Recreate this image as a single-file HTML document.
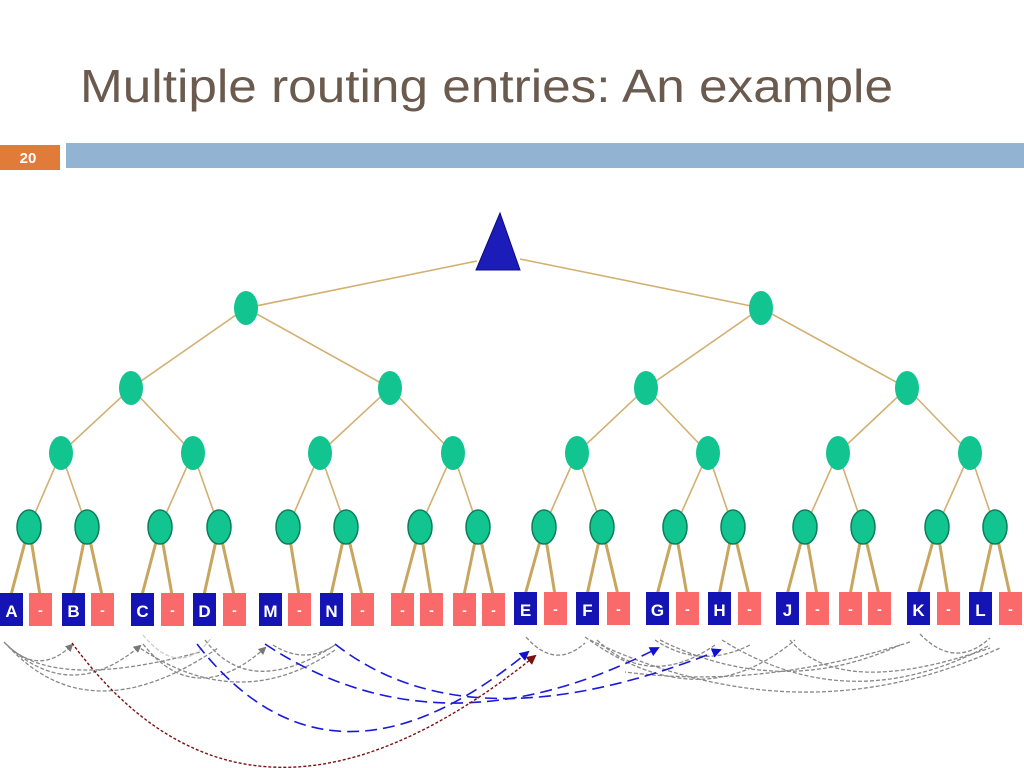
<!DOCTYPE html>
<html><head><meta charset="utf-8"><style>
html,body{margin:0;padding:0;background:#fff;width:1024px;height:768px;overflow:hidden}
svg{display:block}
</style></head><body>
<svg width="1024" height="768" viewBox="0 0 1024 768" xmlns="http://www.w3.org/2000/svg" font-family="Liberation Sans, sans-serif">
<defs>
<marker id="ag" markerWidth="8" markerHeight="8" refX="6" refY="4" orient="auto" markerUnits="userSpaceOnUse"><path d="M0,0 L8,4 L0,8 z" fill="#777"/></marker>
<marker id="ab" markerWidth="10" markerHeight="10" refX="8" refY="5" orient="auto" markerUnits="userSpaceOnUse"><path d="M0,0 L10,5 L0,10 z" fill="#1010d0"/></marker>
<marker id="ar" markerWidth="10" markerHeight="10" refX="8" refY="5" orient="auto" markerUnits="userSpaceOnUse"><path d="M0,0 L10,5 L0,10 z" fill="#7a1010"/></marker>
</defs>
<text x="80" y="102" font-size="46" fill="#6b5a4e" textLength="813" lengthAdjust="spacingAndGlyphs">Multiple routing entries: An example</text>
<rect x="0" y="145" width="60" height="25" fill="#e07b39"/>
<text x="28" y="163" font-size="15" font-weight="bold" fill="#fff" text-anchor="middle">20</text>
<rect x="66" y="143" width="958" height="25" fill="#93b3d3"/>

<g stroke="#d2b071" stroke-width="1.6" fill="none">
<line x1="477" y1="261" x2="246" y2="308"/><line x1="520" y1="259" x2="761" y2="308"/>
<line x1="246" y1="308" x2="131" y2="388"/><line x1="246" y1="308" x2="390" y2="388"/>
<line x1="761" y1="308" x2="646" y2="388"/><line x1="761" y1="308" x2="907" y2="388"/>
<line x1="131" y1="388" x2="61" y2="453"/><line x1="131" y1="388" x2="193" y2="453"/>
<line x1="390" y1="388" x2="320" y2="453"/><line x1="390" y1="388" x2="453" y2="453"/>
<line x1="646" y1="388" x2="577" y2="453"/><line x1="646" y1="388" x2="708" y2="453"/>
<line x1="907" y1="388" x2="838" y2="453"/><line x1="907" y1="388" x2="970" y2="453"/>
<line x1="61" y1="453" x2="29" y2="527"/><line x1="61" y1="453" x2="87" y2="527"/>
<line x1="193" y1="453" x2="160" y2="527"/><line x1="193" y1="453" x2="219" y2="527"/>
<line x1="320" y1="453" x2="288" y2="527"/><line x1="320" y1="453" x2="346" y2="527"/>
<line x1="453" y1="453" x2="420" y2="527"/><line x1="453" y1="453" x2="478" y2="527"/>
<line x1="577" y1="453" x2="544" y2="527"/><line x1="577" y1="453" x2="602" y2="527"/>
<line x1="708" y1="453" x2="675" y2="527"/><line x1="708" y1="453" x2="733" y2="527"/>
<line x1="838" y1="453" x2="805" y2="527"/><line x1="838" y1="453" x2="863" y2="527"/>
<line x1="970" y1="453" x2="937" y2="527"/><line x1="970" y1="453" x2="995" y2="527"/>
</g>
<g stroke="#c9a660" stroke-width="3" fill="none">
<line x1="29" y1="527" x2="11" y2="595"/><line x1="29" y1="527" x2="40" y2="595"/>
<line x1="87" y1="527" x2="73" y2="595"/><line x1="87" y1="527" x2="102" y2="595"/>
<line x1="160" y1="527" x2="142" y2="595"/><line x1="160" y1="527" x2="172" y2="595"/>
<line x1="219" y1="527" x2="204" y2="595"/><line x1="219" y1="527" x2="234" y2="595"/>
<line x1="288" y1="527" x2="299" y2="595"/>
<line x1="346" y1="527" x2="331" y2="595"/><line x1="346" y1="527" x2="362" y2="595"/>
<line x1="420" y1="527" x2="402" y2="595"/><line x1="420" y1="527" x2="431" y2="595"/>
<line x1="478" y1="527" x2="464" y2="595"/><line x1="478" y1="527" x2="493" y2="595"/>
<line x1="544" y1="527" x2="525" y2="595"/><line x1="544" y1="527" x2="555" y2="595"/>
<line x1="602" y1="527" x2="587" y2="595"/><line x1="602" y1="527" x2="618" y2="595"/>
<line x1="675" y1="527" x2="657" y2="595"/><line x1="675" y1="527" x2="687" y2="595"/>
<line x1="733" y1="527" x2="719" y2="595"/><line x1="733" y1="527" x2="749" y2="595"/>
<line x1="805" y1="527" x2="787" y2="595"/><line x1="805" y1="527" x2="817" y2="595"/>
<line x1="863" y1="527" x2="850" y2="595"/><line x1="863" y1="527" x2="879" y2="595"/>
<line x1="937" y1="527" x2="918" y2="595"/><line x1="937" y1="527" x2="948" y2="595"/>
<line x1="995" y1="527" x2="980" y2="595"/><line x1="995" y1="527" x2="1010" y2="595"/>
</g>

<polygon points="500,213 476,270 520,270" fill="#1c1cb8" stroke="#0c0c80" stroke-width="1"/>
<g fill="#12c48f">
<ellipse cx="246" cy="308" rx="12" ry="17"/><ellipse cx="761" cy="308" rx="12" ry="17"/>
<ellipse cx="131" cy="388" rx="12" ry="17"/><ellipse cx="390" cy="388" rx="12" ry="17"/>
<ellipse cx="646" cy="388" rx="12" ry="17"/><ellipse cx="907" cy="388" rx="12" ry="17"/>
<ellipse cx="61" cy="453" rx="12" ry="17"/><ellipse cx="193" cy="453" rx="12" ry="17"/>
<ellipse cx="320" cy="453" rx="12" ry="17"/><ellipse cx="453" cy="453" rx="12" ry="17"/>
<ellipse cx="577" cy="453" rx="12" ry="17"/><ellipse cx="708" cy="453" rx="12" ry="17"/>
<ellipse cx="838" cy="453" rx="12" ry="17"/><ellipse cx="970" cy="453" rx="12" ry="17"/>
</g>
<g fill="#12c48f" stroke="#0a7d5a" stroke-width="1.5">
<ellipse cx="29" cy="527" rx="12" ry="17"/><ellipse cx="87" cy="527" rx="12" ry="17"/>
<ellipse cx="160" cy="527" rx="12" ry="17"/><ellipse cx="219" cy="527" rx="12" ry="17"/>
<ellipse cx="288" cy="527" rx="12" ry="17"/><ellipse cx="346" cy="527" rx="12" ry="17"/>
<ellipse cx="420" cy="527" rx="12" ry="17"/><ellipse cx="478" cy="527" rx="12" ry="17"/>
<ellipse cx="544" cy="527" rx="12" ry="17"/><ellipse cx="602" cy="527" rx="12" ry="17"/>
<ellipse cx="675" cy="527" rx="12" ry="17"/><ellipse cx="733" cy="527" rx="12" ry="17"/>
<ellipse cx="805" cy="527" rx="12" ry="17"/><ellipse cx="863" cy="527" rx="12" ry="17"/>
<ellipse cx="937" cy="527" rx="12" ry="17"/><ellipse cx="995" cy="527" rx="12" ry="17"/>
</g>

<g fill="#1414b4">
<rect x="0" y="593" width="23" height="33"/><rect x="62" y="593" width="23" height="33"/>
<rect x="131" y="593" width="23" height="33"/><rect x="193" y="593" width="23" height="33"/>
<rect x="259" y="593" width="23" height="33"/><rect x="320" y="593" width="23" height="33"/>
<rect x="514" y="592" width="23" height="33"/><rect x="576" y="592" width="23" height="33"/>
<rect x="646" y="592" width="23" height="33"/><rect x="708" y="592" width="23" height="33"/>
<rect x="776" y="592" width="23" height="33"/><rect x="907" y="592" width="23" height="33"/>
<rect x="969" y="592" width="23" height="33"/>
</g>
<g fill="#fb6a6a">
<rect x="29" y="593" width="23" height="33"/><rect x="91" y="593" width="23" height="33"/>
<rect x="161" y="593" width="23" height="33"/><rect x="223" y="593" width="23" height="33"/>
<rect x="288" y="593" width="23" height="33"/><rect x="351" y="593" width="23" height="33"/>
<rect x="391" y="593" width="23" height="33"/><rect x="420" y="593" width="23" height="33"/>
<rect x="453" y="593" width="23" height="33"/><rect x="482" y="593" width="23" height="33"/>
<rect x="544" y="592" width="23" height="33"/><rect x="607" y="592" width="23" height="33"/>
<rect x="676" y="592" width="23" height="33"/><rect x="738" y="592" width="23" height="33"/>
<rect x="806" y="592" width="23" height="33"/><rect x="839" y="592" width="23" height="33"/>
<rect x="868" y="592" width="23" height="33"/><rect x="937" y="592" width="23" height="33"/>
<rect x="999" y="592" width="23" height="33"/>
</g>
<g fill="#fff" font-size="17" font-weight="bold" text-anchor="middle">
<text x="11.5" y="617">A</text><text x="73.5" y="617">B</text><text x="142.5" y="617">C</text>
<text x="204.5" y="617">D</text><text x="270.5" y="617">M</text><text x="331.5" y="617">N</text>
<text x="525.5" y="616">E</text><text x="587.5" y="616">F</text><text x="657.5" y="616">G</text>
<text x="719.5" y="616">H</text><text x="787.5" y="616">J</text><text x="918.5" y="616">K</text>
<text x="980.5" y="616">L</text>
</g>
<g fill="#fff" font-size="14" font-weight="bold" text-anchor="middle">
<text x="40.5" y="615">-</text><text x="102.5" y="615">-</text><text x="172.5" y="615">-</text>
<text x="234.5" y="615">-</text><text x="299.5" y="615">-</text><text x="362.5" y="615">-</text>
<text x="402.5" y="615">-</text><text x="431.5" y="615">-</text><text x="464.5" y="615">-</text>
<text x="493.5" y="615">-</text><text x="555.5" y="614">-</text><text x="618.5" y="614">-</text>
<text x="687.5" y="614">-</text><text x="749.5" y="614">-</text><text x="817.5" y="614">-</text>
<text x="850.5" y="614">-</text><text x="879.5" y="614">-</text><text x="948.5" y="614">-</text>
<text x="1010.5" y="614">-</text>
</g>

<g fill="none" stroke="#888" stroke-width="1.3" stroke-dasharray="4,2">
<path d="M4,642 Q38,678 72,645" marker-end="url(#ag)"/>
<path d="M6,644 Q70,705 140,646" marker-end="url(#ag)"/>
<path d="M8,646 Q90,735 218,648"/>
<path d="M10,648 Q60,690 200,652"/>
<path d="M143,644 Q195,710 265,648" marker-end="url(#ag)"/>
<path d="M205,640 Q250,700 335,645"/>
<path d="M273,645 Q305,665 335,645"/>
<path d="M335,650 Q240,715 140,648"/>
<path d="M526,637 Q555,670 585,643"/>
<path d="M585,637 Q700,720 795,640"/>
<path d="M590,640 Q800,740 1000,648"/>
<path d="M597,640 Q650,690 715,645"/>
<path d="M655,640 Q700,670 750,645"/>
<path d="M660,640 Q780,700 900,645"/>
<path d="M722,640 Q850,720 990,645"/>
<path d="M790,640 Q840,700 990,648"/>
<path d="M920,634 Q955,670 990,638"/>
<path d="M910,642 Q760,690 625,672"/>
</g>
<path d="M143,635 Q180,680 212,637" fill="none" stroke="#ccc" stroke-width="1.3" stroke-dasharray="4,2"/>
<g fill="none" stroke="#1a1ad8" stroke-width="1.6" stroke-dasharray="12,6">
<path d="M197,644 Q330,815 528,652" marker-end="url(#ab)"/>
<path d="M265,644 Q440,760 658,648" marker-end="url(#ab)"/>
<path d="M335,644 Q470,750 720,650" marker-end="url(#ab)"/>
</g>
<path d="M72,643 Q250,885 535,656" fill="none" stroke="#7a1010" stroke-width="1.4" stroke-dasharray="3,2" marker-end="url(#ar)"/>
</svg>
</body></html>
